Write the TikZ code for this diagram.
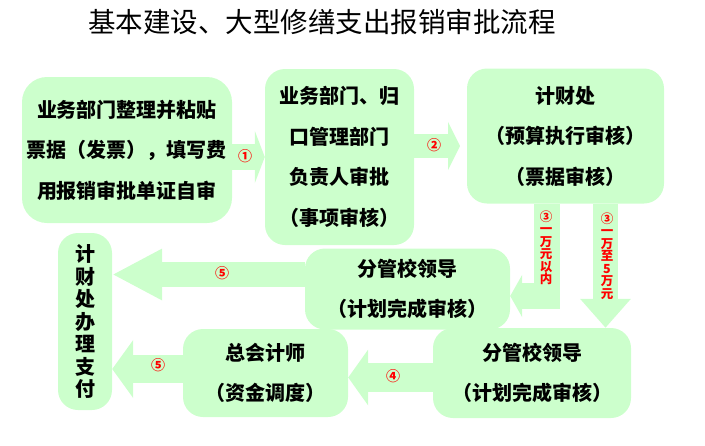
\documentclass[tikz,border=0pt]{standalone}
\usepackage{fontspec}
\setmainfont{Noto Sans CJK SC}
\usepackage{tikz}
\usetikzlibrary{arrows.meta, positioning}
\definecolor{lgreen}{RGB}{204,255,204}
\tikzstyle{box} = [rectangle, rounded corners=20pt, fill=lgreen, align=center, inner sep=0pt, font=\bfseries\fontsize{20}{40.5}\selectfont]
\tikzstyle{flow} = [draw=lgreen, line width=26pt]
\tikzstyle{num} = [text=red, font=\bfseries\fontsize{14}{14}\selectfont, inner sep=0pt]
\tikzstyle{vnum} = [text=red, align=center, inner sep=0pt, font=\bfseries\fontsize{12.5}{12.5}\selectfont]

\begin{document}
\begin{tikzpicture}[x=1pt, y=-1pt]
			\useasboundingbox (0,0) rectangle (705,445);
			\node [font=\fontsize{27.5}{30}\selectfont] (title) at (322, 22) {基本建设、大型修缮支出报销审批流程};

			\node [box, minimum width=210pt, minimum height=146pt, rounded corners=25pt] (dept) at (127, 150) {业务部门整理并粘贴\\票据（发票），填写费\\用报销审批单证自审};
			\node [box, minimum width=149pt, minimum height=176pt] (head) at (339.5, 157) {业务部门、归\\口管理部门\\负责人审批\\（事项审核）};
			\node [box, minimum width=197pt, minimum height=135pt] (fin) at (565.5, 136) {计财处\\（预算执行审核）\\（票据审核）};
			\node [box, minimum width=205pt, minimum height=81pt] (lead) at (407.5, 289) {分管校领导\\（计划完成审核）};
			\node [box, minimum width=198pt, minimum height=90pt] (lead2) at (532, 373) {分管校领导\\（计划完成审核）};
			\node [box, minimum width=165pt, minimum height=88pt] (cfo) at (265.5, 373) {总会计师\\（资金调度）};
			\node [box, minimum width=54pt, minimum height=177pt, font=\bfseries\fontsize{20}{22.5}\selectfont] (pay) at (85, 321.5) {计\\财\\处\\办\\理\\支\\付};

			\coordinate (a2) at (460, 146);
			\coordinate (a3) at (546.5, 296);
			\coordinate (a4) at (605.5, 0);
			\coordinate (a5) at (0, 274.5);
			\coordinate (a6) at (0, 369);
			\coordinate (a7) at (0, 377.5);

			\path [flow, -{Triangle[width=52pt, length=10pt]}] (dept.east |- head.west) -- (head.west);
			\path [flow, line width=24pt, -{Triangle[width=48pt, length=12pt]}] (head.east |- a2) -- (a2);
			\path [flow, -{Triangle[width=42pt, length=12pt]}] (fin.south -| a3) |- (lead.east |- a3);
			\path [flow, line width=25pt, -{Triangle[width=49pt, length=29pt]}] (fin.south -| a4) -- (lead2.north -| a4);
			\path [flow, line width=25pt, -{Triangle[width=48pt, length=50pt]}] (lead.west |- a5) -- (pay.east |- a5);
			\path [flow, line width=28pt, -{Triangle[width=57pt, length=21pt]}] (cfo.west |- a6) -- (pay.east |- a6);
			\path [flow, line width=29pt, -{Triangle[width=55pt, length=20pt]}] (lead2.west |- a7) -- (cfo.east |- a7);

			\node [num] (n1) at (245, 156) {①};
			\node [num] (n2) at (434, 145) {②};
			\node [vnum] (n3a) at (546, 248) {③\\一\\万\\元\\以\\内};
			\node [vnum] (n3b) at (607, 256) {③\\一\\万\\至\\5\\万\\元};
			\node [num] (n4) at (393, 376) {④};
			\node [num] (n5a) at (222, 273) {⑤};
			\node [num] (n5b) at (158, 365) {⑤};
		\end{tikzpicture}
\end{document}
